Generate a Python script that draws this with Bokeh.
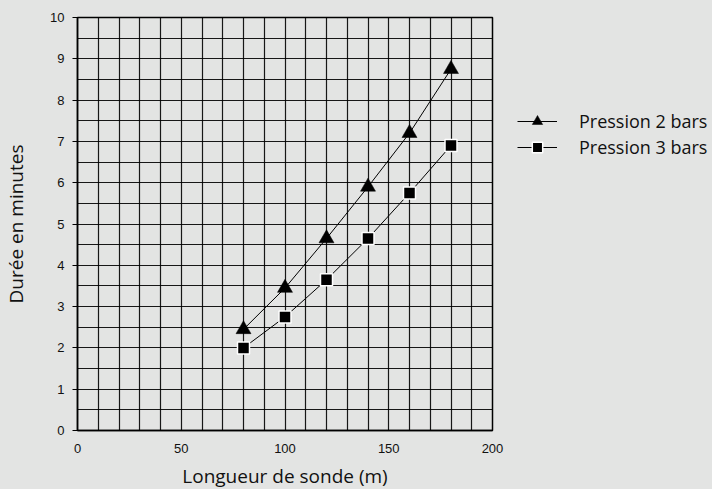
from bokeh.plotting import figure
from bokeh.models import Range1d, SingleIntervalTicker, Legend, LegendItem
from bokeh.embed import file_html
from bokeh.resources import INLINE

longueur = [80, 100, 120, 140, 160, 180]
pression_2_bars = [2.45, 3.45, 4.65, 5.9, 7.2, 8.75]
pression_3_bars = [2.0, 2.75, 3.65, 4.65, 5.75, 6.9]
labels = ["Pression 2 bars", "Pression 3 bars"]
x_title = "Longueur de sonde (m)"
y_title = "Durée en minutes"

BG = "#e3e4e3"

p = figure(frame_width=415, frame_height=413,
           min_border_left=77, min_border_right=20,
           min_border_top=17, min_border_bottom=51,
           x_range=Range1d(0, 200), y_range=Range1d(0, 10),
           output_backend="svg", toolbar_location=None,
           background_fill_color=BG, border_fill_color=BG)

p.outline_line_color = "black"
p.outline_line_width = 1.5

# axes
p.xaxis.ticker = SingleIntervalTicker(interval=50)
p.yaxis.ticker = SingleIntervalTicker(interval=1)
for ax in (p.xaxis[0], p.yaxis[0]):
    ax.axis_line_color = "black"
    ax.axis_line_width = 1.5
    ax.minor_tick_line_color = None
    ax.major_label_text_font = "Liberation Sans"
    ax.major_label_text_font_size = "13px"
    ax.major_label_text_color = "#111111"
    ax.axis_label_text_font = "Open Sans"
    ax.axis_label_text_font_size = "19px"
    ax.axis_label_text_font_style = "normal"
    ax.axis_label_text_color = "#111111"

p.xaxis.major_tick_out = 0
p.xaxis.major_tick_in = 0
p.xaxis.major_label_standoff = 9
p.xaxis.axis_label = x_title
p.xaxis.axis_label_standoff = 7

p.yaxis.major_tick_out = 5
p.yaxis.major_tick_in = 0
p.yaxis.major_tick_line_color = "black"
p.yaxis.major_label_standoff = 8
p.yaxis.axis_label = y_title
p.yaxis.axis_label_standoff = 18

# grid
p.xgrid.ticker = SingleIntervalTicker(interval=10)
p.ygrid.ticker = SingleIntervalTicker(interval=0.5)
for g in (p.xgrid[0], p.ygrid[0]):
    g.grid_line_color = "black"
    g.grid_line_width = 1.2
    g.grid_line_alpha = 0.9

# series
l1 = p.line(longueur, pression_2_bars, line_color="black", line_width=1)
m1 = p.scatter(longueur, pression_2_bars, marker="triangle", size=15,
               fill_color="black", line_color="black", line_width=0.5)
l2 = p.line(longueur, pression_3_bars, line_color="black", line_width=1)
m2 = p.scatter(longueur, pression_3_bars, marker="square", size=12,
               fill_color="black", line_color="white", line_width=1.5)

legend = Legend(items=[LegendItem(label=labels[0], renderers=[l1, m1]),
                       LegendItem(label=labels[1], renderers=[l2, m2])],
                location=(25, 270), orientation="vertical",
                padding=0, margin=0, spacing=0,
                glyph_width=40, glyph_height=26, label_height=26,
                label_standoff=22,
                label_text_font="Open Sans", label_text_font_size="18px",
                label_text_color="#111111",
                border_line_color=None, background_fill_alpha=0)
p.add_layout(legend, "right")

html = file_html(p, INLINE)
html = html.replace("</head>", "<style>html,body{background:%s;}</style></head>" % BG, 1)
open("out.html", "w").write(html)
